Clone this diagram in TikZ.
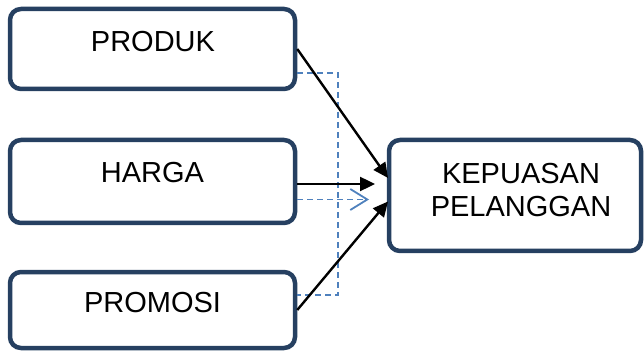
\documentclass[tikz,border=0pt]{standalone}
\usepackage{fontspec}
\setmainfont{Liberation Sans}
\usetikzlibrary{arrows.meta}
\definecolor{boxline}{RGB}{38,64,97}
\definecolor{dashblue}{RGB}{79,129,189}
\begin{document}
\begin{tikzpicture}[x=1pt,y=-1pt,
  varbox/.style={draw=boxline,line width=4.5pt,rounded corners=11pt,fill=white,inner sep=0pt},
  lbl/.style={font=\fontsize{29}{33}\selectfont,inner sep=0pt,align=center},
  solidarrow/.style={draw=black,line width=2.4pt,-{Triangle[length=15pt,width=14pt]}},
  dashline/.style={draw=dashblue,line width=1.8pt,dash pattern=on 6pt off 4pt},
  dasharrow/.style={dashline,-{Straight Barb[length=17pt,width=21pt,line width=1.8pt]}}]
\useasboundingbox (0,0) rectangle (644,352);
% boxes
\node[varbox,minimum width=285pt,minimum height=80pt] (produk) at (152.5,49) {};
\node[varbox,minimum width=285pt,minimum height=83pt] (harga) at (152.5,181.5) {};
\node[varbox,minimum width=285pt,minimum height=76pt] (promosi) at (152.5,310) {};
\node[varbox,minimum width=252pt,minimum height=111pt] (kepuasan) at (515,195.5) {};
% texts
\node[lbl] (produkT) at (153,42) {PRODUK};
\node[lbl] (hargaT) at (152.5,172.5) {HARGA};
\node[lbl] (promosiT) at (152.5,303) {PROMOSI};
\node[lbl] (kepuasanT) at (521,190.5) {KEPUASAN\\PELANGGAN};
% arrow tips
\coordinate (t1) at (388,178);
\coordinate (t2) at (375,184);
\coordinate (t3) at (388,201.5);
\coordinate (t4) at (369,199.5);
\coordinate (bj1) at (338,73);
\coordinate (bj2) at (338,295);
% dashed blue
\draw[dashline] (produk.east |- bj1) -- (bj1) -- (bj2) -- (promosi.east |- bj2);
\draw[dasharrow] (harga.east |- t4) -- (t4);
% solid arrows
\draw[solidarrow] (produk.east) -- (t1);
\draw[solidarrow] (harga.east |- t2) -- (t2);
\draw[solidarrow] (promosi.east) -- (t3);
\end{tikzpicture}
\end{document}
